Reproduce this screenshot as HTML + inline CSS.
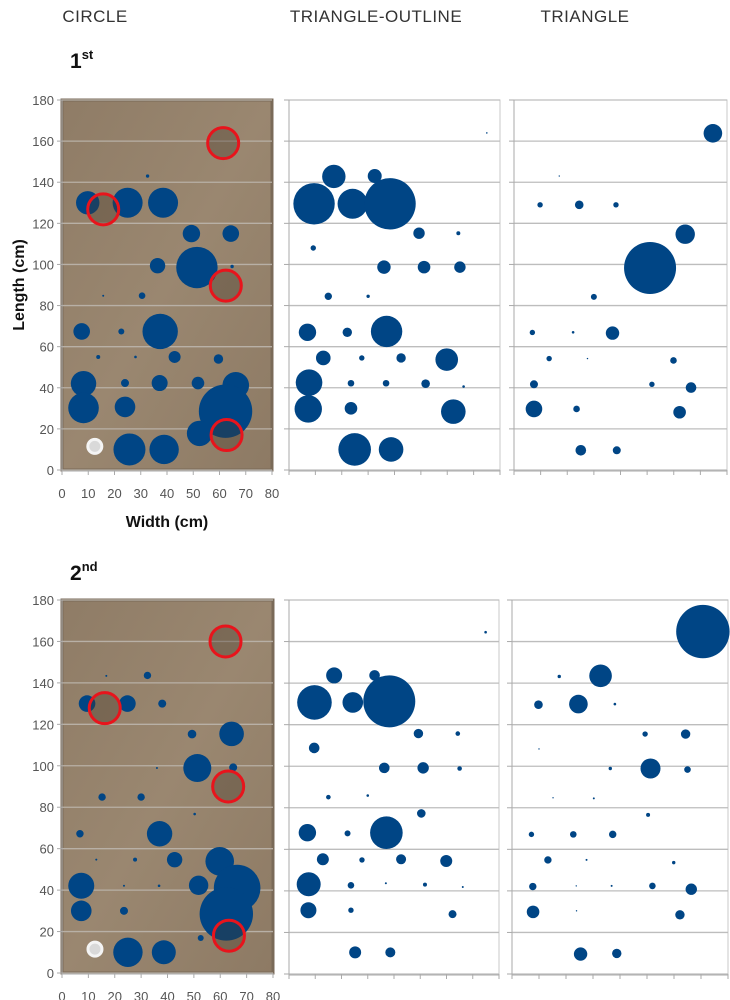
<!DOCTYPE html>
<html><head><meta charset="utf-8"><style>
body{margin:0;background:#fff;width:730px;height:1000px;overflow:hidden;font-family:"Liberation Sans",sans-serif}
svg{position:absolute;left:0;top:0}
</style></head><body>
<svg id="c" width="730" height="1000" xmlns="http://www.w3.org/2000/svg">
<defs>
<linearGradient id="photo" x1="0" y1="0" x2="1" y2="1">
<stop offset="0" stop-color="#8f7c66"/><stop offset="0.5" stop-color="#9a8770"/><stop offset="1" stop-color="#8d7a64"/>
</linearGradient>
</defs>
<g font-size="17" fill="#333" text-anchor="middle" letter-spacing="0.5">
<text x="95" y="22">CIRCLE</text>
<text x="376" y="22">TRIANGLE-OUTLINE</text>
<text x="585" y="22">TRIANGLE</text>
</g>
<text x="70" y="68" font-size="21" font-weight="bold" fill="#111">1<tspan font-size="13" dy="-9">st</tspan></text>
<text x="70" y="580" font-size="21" font-weight="bold" fill="#111">2<tspan font-size="13" dy="-9">nd</tspan></text>
<text transform="translate(24,285) rotate(-90)" text-anchor="middle" font-size="16" font-weight="bold" fill="#111">Length (cm)</text>
<text x="167" y="527" text-anchor="middle" font-size="16" font-weight="bold" fill="#111">Width (cm)</text>
<g id="plots"></g>
</svg>
<script>
// [x, y, size(radius)]
const circle1 = [[32.6,143,1.7],[9.8,130,11.7],[25,130,15],[38.5,130,15],[49.3,115,8.7],[64.3,115,8.3],[36.4,99.4,7.7],[51.4,98.5,20.7],[64.8,99,1.7],[15.7,84.8,1],[30.5,84.8,3.3],[7.5,67.4,8.3],[22.6,67.4,3],[37.4,67.4,17.7],[13.8,55,2],[28,55,1.3],[42.9,55,6],[59.6,54,4.7],[8.2,42,12.7],[24,42.3,4],[37.2,42.3,8],[51.8,42.3,6.3],[66.2,41.2,13.3],[8.2,30.2,15.3],[24,30.7,10.3],[62.3,28.6,26.7],[52.4,17.8,12.7],[25.7,10,16],[38.9,10,14.7]];
const outline1 = [[75,164,0.8],[17,142.8,11.7],[32.5,143,7],[9.5,129.5,20.7],[24.1,129.5,15],[38.3,129.5,25.7],[49.3,115.2,5.7],[64.2,115.2,2],[9.2,108,2.7],[36,98.7,6.7],[51.2,98.7,6.3],[64.8,98.7,5.7],[14.9,84.5,3.7],[30,84.5,1.7],[7,67,8.7],[22.1,67,4.7],[37,67.4,15.7],[13,54.5,7.3],[27.6,54.5,2.7],[42.5,54.5,4.7],[59.8,53.7,11.3],[7.6,42.5,13.3],[23.5,42.2,3.3],[36.8,42.2,3.3],[51.8,42,4.3],[66.2,40.6,1.3],[7.3,29.7,13.7],[23.5,30,6.3],[62.3,28.4,12.3],[24.9,10,16.3],[38.7,10,12.3]];
const triangle1 = [[74.7,163.8,9.3],[17,143,0.7],[9.8,129,2.7],[24.5,129,4.3],[38.3,129,2.7],[64.3,114.7,9.7],[51.1,98.3,26],[30,84.2,3],[6.9,66.9,2.7],[22.2,67,1.3],[37,66.6,6.7],[13.2,54.2,2.7],[27.6,54.2,0.7],[59.9,53.3,3.3],[7.5,41.7,4],[51.8,41.7,2.7],[66.5,40.1,5.3],[7.5,29.7,8.3],[23.5,29.7,3.3],[62.2,28.1,6.3],[25.1,9.6,5.3],[38.6,9.6,4]];
const circle2 = [[16.8,143.4,1],[32.4,143.6,3.7],[9.5,130,8.3],[24.8,130,8.3],[38,130,4],[49.3,115.3,4.3],[64.3,115.4,12.3],[36,98.9,1],[51.3,98.9,14],[64.9,99.2,4],[15.2,84.9,3.7],[30,84.9,3.7],[50.3,76.7,1.3],[6.8,67.2,3.7],[37,67.2,12.7],[13,54.7,1],[27.7,54.7,2],[42.7,54.7,7.7],[59.8,53.9,14.3],[7.3,42.1,13],[23.5,42.1,1],[36.8,42.1,1.3],[51.8,42.3,9.7],[66.4,41,23.3],[7.3,30,10.3],[23.5,30,4],[62.3,28.5,26.7],[52.6,16.9,3],[25,10,14.7],[38.6,10,12]];
const outline2 = [[74.9,164.5,1.3],[17.2,143.7,8],[32.6,143.7,5.3],[9.7,130.7,17.3],[24.3,130.7,10.3],[38.2,131.2,26],[49.3,115.7,4.7],[64.3,115.7,2.3],[9.6,108.8,5.3],[36.3,99.2,5.3],[51.1,99.2,5.7],[65,98.9,2.3],[15,85.1,2.3],[30,85.9,1.3],[50.4,77.3,4.3],[7,68,8.7],[22.3,67.7,3],[37.1,68,16.3],[12.9,55.2,6],[27.8,54.9,2.7],[42.7,55.2,5],[59.9,54.4,6],[7.5,43.2,12],[23.6,42.7,3.3],[36.9,43.7,1],[51.8,43,2],[66.2,41.9,1],[7.4,30.7,8],[23.6,30.7,2.7],[62.3,28.8,4],[25.2,10.4,6],[38.6,10.4,5]];
const triangle2 = [[70.7,164.8,26.7],[17.5,143.2,1.7],[32.8,143.5,11.3],[9.8,129.6,4.3],[24.6,129.9,9.3],[38.1,129.9,1.3],[49.3,115.5,2.7],[64.3,115.5,4.7],[10,108.3,0.7],[36.4,98.9,1.7],[51.3,98.9,10],[65,98.4,3.3],[15.2,84.8,0.7],[30.3,84.5,1],[50.4,76.6,2],[7.2,67.2,2.7],[22.7,67.2,3.3],[37.3,67.2,3.7],[13.3,54.9,3.7],[27.6,54.9,1],[59.9,53.6,1.7],[7.7,42.1,3.7],[23.8,42.4,0.7],[36.9,42.4,1],[52,42.4,3.3],[66.4,40.8,5.7],[7.8,29.9,6.3],[23.9,30.4,0.7],[62.2,28.5,4.7],[25.4,9.6,6.7],[38.8,9.9,4.7]];
const redRings1 = [[61.4,159],[15.7,126.8],[62.4,89.7],[62.7,17]];
const redRings2 = [[62,160],[16.2,127.8],[63,90],[63.3,18]];
const yTicks = [0,20,40,60,80,100,120,140,160,180];
const xTicks = [0,10,20,30,40,50,60,70,80];

const NS="http://www.w3.org/2000/svg";
const root=document.getElementById('plots');
function mk(tag,attrs,parent){const e=document.createElementNS(NS,tag);for(const k in attrs)e.setAttribute(k,attrs[k]);parent.appendChild(e);return e;}

const panels=[
 {name:'circle-1st',x0:62,x1:272,yb:470,yt:100,data:circle1,photo:true,rings:redRings1,labels:true},
 {name:'triangle-outline-1st',x0:289,x1:500,yb:470,yt:100,data:outline1},
 {name:'triangle-1st',x0:514,x1:727,yb:470,yt:100,data:triangle1},
 {name:'circle-2nd',x0:62,x1:273,yb:973,yt:600,data:circle2,photo:true,rings:redRings2,labels:true},
 {name:'triangle-outline-2nd',x0:289,x1:499,yb:974,yt:600,data:outline2},
 {name:'triangle-2nd',x0:512,x1:728,yb:974,yt:600,data:triangle2},
];
panels.forEach(p=>{
 const sx=v=>p.x0+(v/80)*(p.x1-p.x0);
 const sy=v=>p.yb-(v/180)*(p.yb-p.yt);
 const g=mk('g',{},root);
 
 
 if(p.photo){
  const r=mk('rect',{x:p.x0,y:p.yt,width:p.x1-p.x0,height:p.yb-p.yt,fill:'url(#photo)',stroke:'#7a6a58','stroke-width':3},g);
  
  
  const w=mk('circle',{cx:sx(12.5),cy:sy(11.5),r:7,fill:'#d9d9d9',stroke:'#f4f4f4','stroke-width':3},g);
  
  
 } else {
  const r=mk('rect',{x:p.x0,y:p.yt,width:p.x1-p.x0,height:p.yb-p.yt,fill:'#fff',stroke:'#c8c8c8','stroke-width':1},g);
  
  
 }
 yTicks.forEach(t=>{
  const y=sy(t);
  const l=mk('line',{x1:p.x0,x2:p.x1,y1:y,y2:y,stroke:p.photo?'#b8b0a6':'#bdbdbd','stroke-width':1.3},g);
  
  
  mk('line',{x1:p.x0-5,x2:p.x0,y1:y,y2:y,stroke:'#aaa'},g);
  if(p.labels){
   const tx=mk('text',{x:p.x0-8,y:y+5,'text-anchor':'end','font-size':13,fill:'#555'},g);
   tx.textContent=t;
   
   
  }
 });
 mk('line',{x1:p.x0,x2:p.x1,y1:p.yb+1,y2:p.yb+1,stroke:'#aaa'},g);
 mk('line',{x1:p.x0,x2:p.x0,y1:p.yt,y2:p.yb+5,stroke:'#aaa'},g);
 xTicks.forEach(t=>{
  const x=sx(t);
  mk('line',{x1:x,x2:x,y1:p.yb,y2:p.yb+5,stroke:'#aaa'},g);
  if(p.labels){
   const tx=mk('text',{x:x,y:p.yb+28,'text-anchor':'middle','font-size':13,fill:'#555'},g);
   tx.textContent=t;
   
   
  }
 });
 p.data.forEach(d=>{
  const c=mk('circle',{cx:sx(d[0]),cy:sy(d[1]),r:Math.max(d[2],0.6),fill:'#004585'},g);
  
  
 });
 if(p.rings){
  p.rings.forEach(d=>{
   const c=mk('circle',{cx:sx(d[0]),cy:sy(d[1]),r:15.5,fill:'rgba(70,55,40,0.35)',stroke:'#e8141c','stroke-width':3},g);
   
   
  });
 }
});
</script>
</body></html>
